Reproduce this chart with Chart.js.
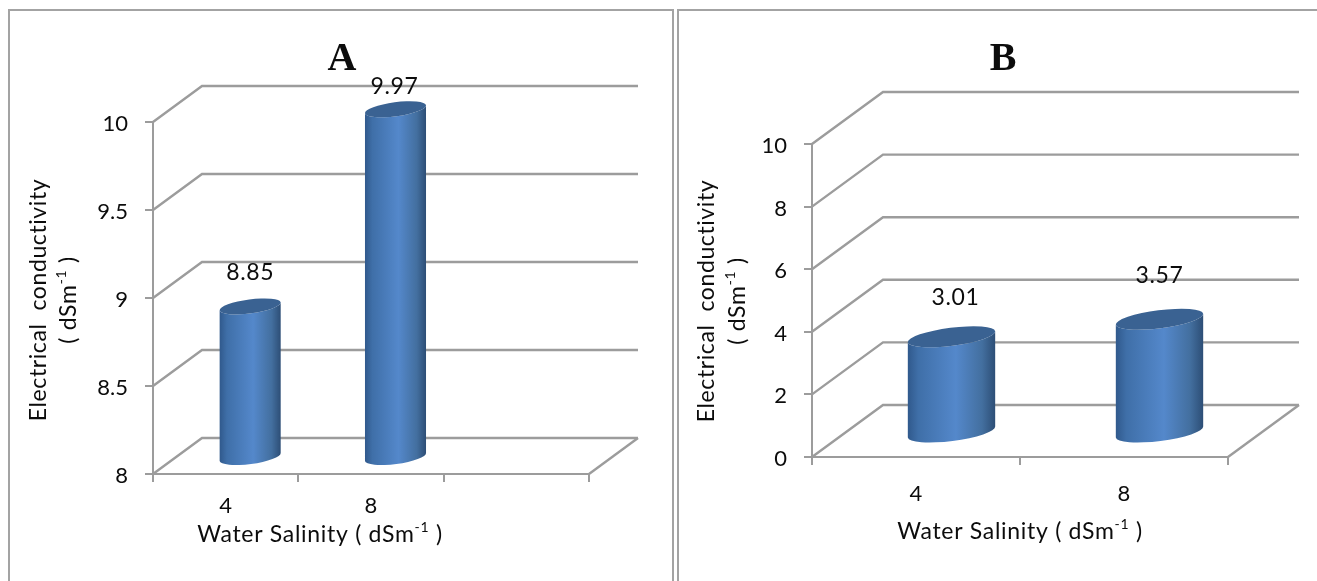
<!DOCTYPE html>
<html>
<head>
<meta charset="utf-8">
<title>Electrical conductivity vs water salinity</title>
<script src="https://cdn.jsdelivr.net/npm/chart.js@4/dist/chart.umd.js"></script>
<style>
  html,body{margin:0;padding:0;background:#fff;overflow:hidden;width:1317px;height:581px;}
  .panel{position:absolute;top:9px;height:620px;border:2px solid #a3a3a3;box-sizing:border-box;}
  #panelA{left:8px;width:666px;}
  #panelB{left:677px;width:700px;}
  canvas{position:absolute;top:10px;}
  #chartA{left:9px;}
  #chartB{left:678px;}
</style>
</head>
<body>
<div class="panel" id="panelA"></div>
<div class="panel" id="panelB"></div>
<canvas id="chartA" width="665" height="571"></canvas>
<canvas id="chartB" width="650" height="571"></canvas>
<script>
// Data
const categoriesA=['4','8',''];
const valuesA=[8.85,9.97,null];
const categoriesB=['4','8'];
const valuesB=[3.01,3.57];
const yTitleLine1='Electrical  conductivity';
const yTitleLine2=['( dSm','-1',' )'];
const xTitle=['Water Salinity ( dSm','-1',' )'];

const FONT='Lato, Carlito, sans-serif';
const GREY='#9c9c9c';
const INK='#0c0c0c';

// text with a raised middle part, centred on 0,0 of the current transform
function drawSup(ctx,parts,size){
  const base=size+'px '+FONT, small=Math.round(size*0.62)+'px '+FONT;
  ctx.letterSpacing='0.7px';
  ctx.font=base; const w0=ctx.measureText(parts[0]).width, w2=ctx.measureText(parts[2]).width;
  ctx.font=small; const w1=ctx.measureText(parts[1]).width;
  let x=-(w0+w1+w2)/2;
  ctx.textAlign='left'; ctx.textBaseline='middle';
  ctx.font=base; ctx.fillText(parts[0],x,0); x+=w0;
  ctx.font=small; ctx.fillText(parts[1],x,-size*0.32); x+=w1;
  ctx.font=base; ctx.fillText(parts[2],x,0);
}

// back wall and floor, taken from the scales
const wallPlugin={
  id:'wall',
  beforeDatasetsDraw(chart,args,o){
    const {ctx,chartArea:a,scales:{y}}=chart;
    ctx.save();
    ctx.strokeStyle=GREY; ctx.lineWidth=2.4;
    y.ticks.forEach(t=>{
      const py=y.getPixelForValue(t.value);
      ctx.beginPath();
      ctx.moveTo(a.left,py);
      ctx.lineTo(a.left+o.dx,py-o.dy);
      ctx.lineTo(a.right+o.dx,py-o.dy);
      ctx.stroke();
    });
    ctx.beginPath();
    ctx.moveTo(a.right,a.bottom);
    ctx.lineTo(a.right+o.dx,a.bottom-o.dy);
    ctx.stroke();
    ctx.restore();
  }
};

// cylinders on top of the library's bar elements
const cylinderPlugin={
  id:'cylinder',
  afterDatasetsDraw(chart,args,o){
    const {ctx}=chart;
    const values=chart.data.datasets[0].data;
    chart.getDatasetMeta(0).data.forEach((el,i)=>{
      if(values[i]===null) return;
      const x=el.x+o.dx/2, top=el.y-o.dy/2, bot=el.base-o.dy/2+2, r=el.width/2;
      const rot=-Math.atan2(o.tilt,r), rx=Math.hypot(r,o.tilt);
      const grad=ctx.createLinearGradient(x-r,0,x+r,0);
      grad.addColorStop(0,'#30598c');
      grad.addColorStop(0.12,'#3f6fa8');
      grad.addColorStop(0.55,'#5488cb');
      grad.addColorStop(0.85,'#436f9f');
      grad.addColorStop(1,'#2d4e76');
      ctx.save();
      ctx.beginPath();
      ctx.moveTo(x-r,top+o.tilt);
      ctx.lineTo(x-r,bot+o.tilt);
      ctx.ellipse(x,bot,rx,o.minor,rot,Math.PI,0,true);
      ctx.lineTo(x+r,top-o.tilt);
      ctx.ellipse(x,top,rx,o.minor,rot,0,Math.PI,false);
      ctx.closePath();
      ctx.fillStyle=grad; ctx.fill();
      ctx.beginPath();
      ctx.ellipse(x,top,rx,o.minor,rot,0,Math.PI*2);
      ctx.fillStyle='#3a6292'; ctx.fill();
      // value above the bar
      ctx.fillStyle=INK;
      ctx.letterSpacing='0.6px';
      ctx.font=o.labelSize+'px '+FONT;
      ctx.textAlign='center'; ctx.textBaseline='middle';
      ctx.fillText(values[i].toFixed(2),x+o.labelDx[i],top-o.labelGap[i]);
      ctx.restore();
    });
  }
};

// chart letter and axis titles
const textPlugin={
  id:'chartText',
  afterDraw(chart,args,o){
    const {ctx}=chart;
    ctx.save();
    ctx.fillStyle=INK;
    ctx.font='bold 40px "Liberation Serif"';
    ctx.textAlign='center'; ctx.textBaseline='middle';
    ctx.fillText(o.title,o.titleX,o.titleY);
    ctx.save();
    ctx.translate(o.y1x,o.ymid); ctx.rotate(-Math.PI/2);
    ctx.letterSpacing='0.6px';
    ctx.font=o.size+'px '+FONT; ctx.textAlign='center'; ctx.textBaseline='middle';
    ctx.fillText(yTitleLine1,0,0);
    ctx.restore();
    ctx.save();
    ctx.translate(o.y2x,o.ymid); ctx.rotate(-Math.PI/2);
    drawSup(ctx,yTitleLine2,o.size);
    ctx.restore();
    ctx.translate(o.xmid,o.xy);
    drawSup(ctx,xTitle,o.size);
    ctx.restore();
  }
};

function makeChart(id,labels,values,yMin,yMax,step,c){
  return new Chart(document.getElementById(id),{
    type:'bar',
    data:{labels:labels,datasets:[{data:values,base:yMin,backgroundColor:'rgba(0,0,0,0)',borderWidth:0,categoryPercentage:1,barPercentage:0.42}]},
    plugins:[wallPlugin,cylinderPlugin,textPlugin],
    options:{
      responsive:false,
      animation:false,
      layout:{padding:{left:0,right:c.padRight,top:c.padTop,bottom:0}},
      plugins:{
        legend:{display:false},
        tooltip:{enabled:false},
        title:{display:false},
        wall:{dx:c.dx,dy:c.dy},
        cylinder:{dx:c.dx,dy:c.dy,tilt:c.tilt,minor:c.minor,labelSize:23,labelDx:c.labelDx,labelGap:c.labelGap},
        chartText:c.text
      },
      scales:{
        x:{
          afterFit(s){s.height=c.xHeight;},
          border:{color:GREY,width:2},
          grid:{drawOnChartArea:false,color:GREY,lineWidth:2,tickLength:8},
          ticks:{color:INK,font:{family:FONT,size:22},padding:c.xPad,maxRotation:0}
        },
        y:{
          min:yMin,max:yMax,
          afterFit(s){s.width=c.yWidth;},
          border:{color:GREY,width:2},
          grid:{drawOnChartArea:false,color:GREY,lineWidth:2,tickLength:8},
          ticks:{stepSize:step,color:INK,font:{family:FONT,size:22},padding:17,labelOffset:2,callback:v=>String(v)}
        }
      }
    }
  });
}

makeChart('chartA',categoriesA,valuesA,8,10,0.5,{
  padRight:85,padTop:112,yWidth:144,xHeight:107,xPad:11,
  dx:49,dy:36,tilt:4,minor:7,labelDx:[0,-1],labelGap:[34,23],
  text:{title:'A',titleX:333,titleY:50,size:23,y1x:30,y2x:60,ymid:290,xmid:311,xy:525}
});
makeChart('chartB',categoriesB,valuesB,0,10,2,{
  padRight:100,padTop:134,yWidth:134,xHeight:124,xPad:16,
  dx:71,dy:52,tilt:5.5,minor:9,labelDx:[4,0],labelGap:[39,44],
  text:{title:'B',titleX:325,titleY:50,size:23,y1x:29,y2x:60,ymid:291,xmid:342,xy:522}
});
</script>
</body>
</html>
